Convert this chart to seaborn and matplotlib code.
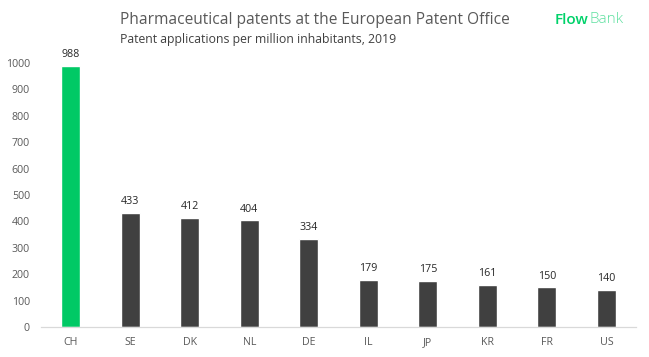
import matplotlib
matplotlib.use("Agg")
import matplotlib.pyplot as plt
import seaborn as sns
import pandas as pd

countries = ["CH", "SE", "DK", "NL", "DE", "IL", "JP", "KR", "FR", "US"]
values = [988, 433, 412, 404, 334, 179, 175, 161, 150, 140]
yticks = [0, 100, 200, 300, 400, 500, 600, 700, 800, 900, 1000]

sns.set_theme(style="white")
plt.rcParams['font.family'] = ['Open Sans', 'DejaVu Sans']

df = pd.DataFrame({"country": countries, "value": values})
palette = ["#00C965"] + ["#404040"] * (len(countries) - 1)

fig = plt.figure(figsize=(6.49, 3.57), dpi=100)
ax = fig.add_axes([0.0632, 0.084, 0.917, 0.7395])
sns.barplot(data=df, x="country", y="value", hue="country", palette=palette,
            legend=False, width=0.32, ax=ax, saturation=1)

ax.set_ylim(0, 1000)
ax.set_xlim(-0.5, len(countries) - 0.5)
ax.set_yticks(yticks)
ax.set_yticklabels([str(t) for t in yticks], fontsize=7.7, color="#595959")
ax.tick_params(axis="x", labelsize=7.7, colors="#595959", length=0, pad=7)
ax.tick_params(axis="y", length=0, pad=8)
ax.set_xlabel("")
ax.set_ylabel("")
for s in ["top", "right", "left"]:
    ax.spines[s].set_visible(False)
ax.spines["bottom"].set_color("#D9D9D9")
ax.spines["bottom"].set_linewidth(0.9)

for i, v in enumerate(values):
    ax.text(i, v + 22, str(v), ha="center", va="bottom", fontsize=7.7,
            color="#262626", clip_on=False)

fig.text(0.185, 0.945, "Pharmaceutical patents at the European Patent Office",
         fontsize=11.2, color="#595959", ha="left", va="center")
fig.text(0.185, 0.888, "Patent applications per million inhabitants, 2019",
         fontsize=8.8, color="#404040", ha="left", va="center")
t1 = fig.text(0.855, 0.945, "Flow", fontsize=11, color="#00D26A", ha="left",
              va="center", fontweight="semibold")
fig.canvas.draw()
bb = t1.get_window_extent(renderer=fig.canvas.get_renderer())
x_end = bb.x1 / fig.bbox.width
fig.text(x_end + 0.001, 0.945, "Bank", fontsize=11, color="#5FE0A0", ha="left",
         va="center", fontweight="light")

fig.savefig("out.png", dpi=100)
